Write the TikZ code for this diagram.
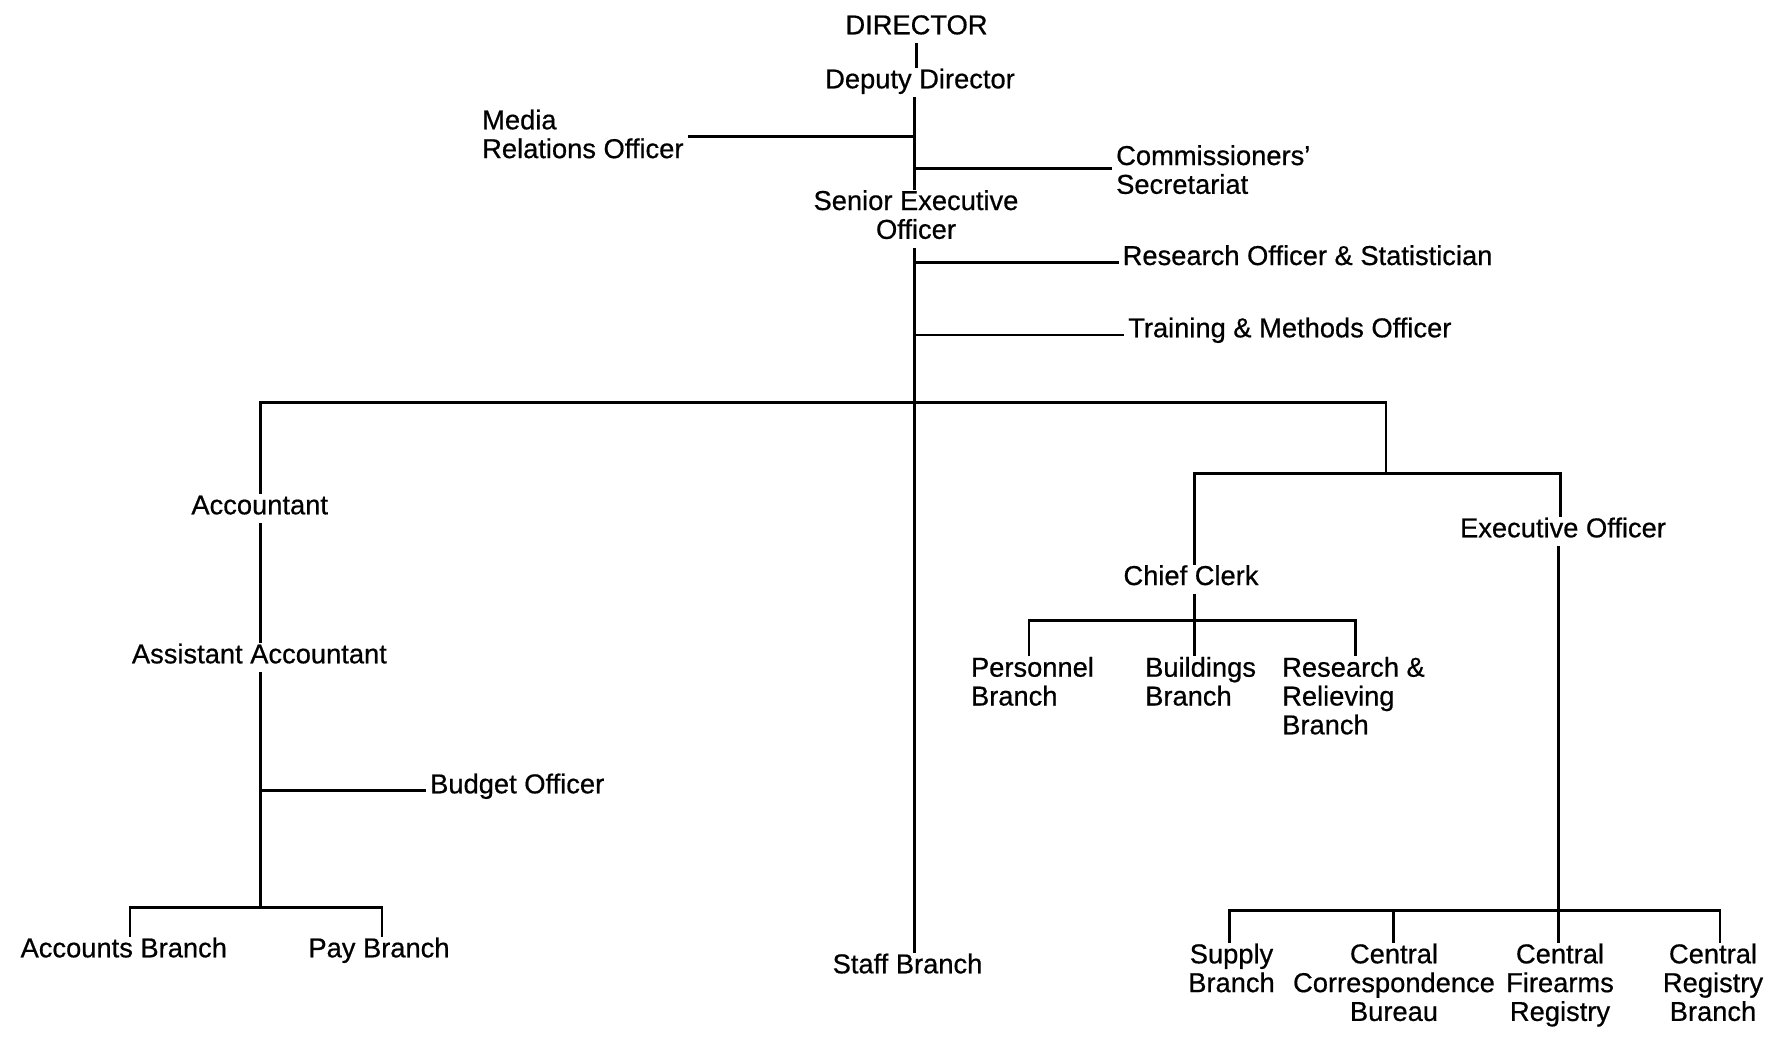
\documentclass[tikz,border=0pt]{standalone}
\usepackage{fontspec}
\setmainfont{Liberation Sans}[FakeBold=0.6]
% stacked label lines, baseline on the first line
\newcommand{\cstack}[1]{\begin{tabular}[t]{@{}c@{}}#1\end{tabular}}
\newcommand{\lstack}[1]{\begin{tabular}[t]{@{}l@{}}#1\end{tabular}}
\begin{document}
\begin{tikzpicture}[x=1pt,y=-1pt,
  lblbase/.style={inner xsep=4pt, inner ysep=0pt, font=\fontsize{27.3}{28.8}\selectfont},
  lbl/.style={lblbase, anchor=base},
  lbll/.style={lblbase, anchor=base west},
  link/.style={line width=2.9pt, line join=miter}]
\useasboundingbox[fill=white] (0,0) rectangle (1766,1036);

% --- head office ---
\node[lbl]  (dir)    at (916.5,34.3)  {\cstack{DIRECTOR}};
\node[lbl]  (dep)    at (920,88.3)    {\cstack{Deputy Director}};
\node[lbll] (media)  at (478,129.3)   {\lstack{Media\\Relations Officer}};
\node[lbll] (comm)   at (1112,165)    {\lstack{Commissioners'\\Secretariat}};
\node[lbl]  (seo)    at (916,210)     {\cstack{Senior Executive\\Officer}};
\node[lbll] (rost)   at (1118.5,265)  {\lstack{Research Officer \& Statistician}};
\node[lbll] (tmo)    at (1124,337.3)  {\lstack{Training \& Methods Officer}};

% --- accounts side ---
\node[lbl]  (acct)   at (259.7,514.3) {\cstack{Accountant}};
\node[lbl]  (asst)   at (259.4,663.3) {\cstack{Assistant Accountant}};
\node[lbll] (budget) at (426,793.3)   {\lstack{Budget Officer}};
\node[lbl]  (accb)   at (123.8,957.3) {\cstack{Accounts Branch}};
\node[lbl]  (payb)   at (379,957.3)   {\cstack{Pay Branch}};

% --- staff ---
\node[lbl]  (staff)  at (907.5,973.3) {\cstack{Staff Branch}};

% --- administration side ---
\node[lbl]  (cc)     at (1191,585)    {\cstack{Chief Clerk}};
\node[lbl]  (eo)     at (1563,537.3)  {\cstack{Executive Officer}};
\node[lbll] (pers)   at (966.8,676.7) {\lstack{Personnel\\Branch}};
\node[lbll] (bldg)   at (1141,676.7)  {\lstack{Buildings\\Branch}};
\node[lbll] (rrb)    at (1278,676.7)  {\lstack{Research \&\\Relieving\\Branch}};
\node[lbl]  (supply) at (1231.5,963.3){\cstack{Supply\\Branch}};
\node[lbl]  (ccb)    at (1394,963.3)  {\cstack{Central\\Correspondence\\Bureau}};
\node[lbl]  (cfr)    at (1560,963.3)  {\cstack{Central\\Firearms\\Registry}};
\node[lbl]  (crb)    at (1713,963.3)  {\cstack{Central\\Registry\\Branch}};

% junction points
\coordinate (spine) at (914.5,0);
\coordinate (tMedia) at (914.5,136.7);
\coordinate (tComm)  at (914.5,168.3);
\coordinate (tRost)  at (914.5,262.7);
\coordinate (tTmo)   at (914.5,335);
\coordinate (barL)   at (260.5,402.5);
\coordinate (barR)   at (1386,402.5);
\coordinate (ceL)    at (1194.7,473.3);
\coordinate (ceR)    at (1560.7,473.3);
\coordinate (ceMid)  at (1386,473.3);
\coordinate (tBud)   at (260.5,790.7);
\coordinate (abL)    at (130,907.3);
\coordinate (abR)    at (382,907.3);
\coordinate (abMid)  at (260.5,907.3);
\coordinate (ccL)    at (1029,620.7);
\coordinate (ccM)    at (1194.7,620.7);
\coordinate (ccR)    at (1355.4,620.7);
\coordinate (eoA)    at (1229.6,910.7);
\coordinate (eoB)    at (1393.5,910.7);
\coordinate (eoC)    at (1558.2,910.7);
\coordinate (eoD)    at (1720,910.7);

\begin{scope}[link]
  % main spine
  \draw (dir.south) -- (dir.south |- dep.north);
  \draw (spine |- dep.south) -- (spine |- seo.north);
  \draw (spine |- seo.south) -- (spine |- staff.north);
  \draw (tMedia) -- (tMedia -| media.east);
  \draw (tComm) -- (tComm -| comm.west);
  \draw (tRost) -- (tRost -| rost.west);
  \draw (tTmo) -- (tTmo -| tmo.west);

  % top bar
  \draw (barL |- acct.north) -- (barL) -- (barR) -- (ceMid);

  % accounts chain
  \draw (barL |- acct.south) -- (barL |- asst.north);
  \draw (barL |- asst.south) -- (abMid);
  \draw (tBud) -- (tBud -| budget.west);
  \draw (abL |- accb.north) -- (abL) -- (abR) -- (abR |- payb.north);

  % chief clerk / executive officer
  \draw (ceL |- cc.north) -- (ceL) -- (ceR) -- (ceR |- eo.north);
  \draw (ccM |- cc.south) -- (ccM);
  \draw (ccL |- pers.north) -- (ccL) -- (ccR) -- (ccR |- rrb.north);
  \draw (ccM) -- (ccM |- bldg.north);

  \draw (eoC |- eo.south) -- (eoC);
  \draw (eoA |- supply.north) -- (eoA) -- (eoD) -- (eoD |- crb.north);
  \draw (eoB) -- (eoB |- ccb.north);
  \draw (eoC) -- (eoC |- cfr.north);
\end{scope}
\end{tikzpicture}
\end{document}
